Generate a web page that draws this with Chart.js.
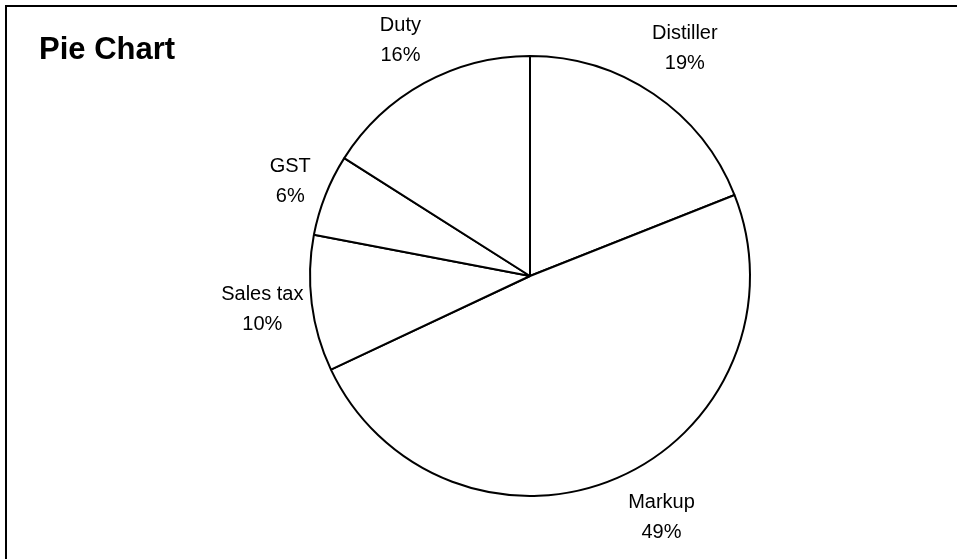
<!DOCTYPE html>
<html>
<head>
<meta charset="utf-8">
<script src="https://cdn.jsdelivr.net/npm/chart.js@4/dist/chart.umd.min.js"></script>
<style>
  html, body { margin: 0; padding: 0; background: #fff; }
  #wrap { position: relative; width: 957px; height: 559px; }
</style>
</head>
<body>
<div id="wrap"><canvas id="myChart"></canvas></div>
<script>
// slices, clockwise from 12 o'clock
const categories = ['Distiller', 'Markup', 'Sales tax', 'GST', 'Duty'];
const shares = [19, 49, 10, 6, 16];
const chartTitle = 'Pie Chart';

// where a two-line label sits for a given angle
function labelCenter(p, ang, w, h) {
  const c = Math.abs(Math.cos(ang)), s = Math.abs(Math.sin(ang));
  const gap = 4 + 17 * s;
  const dist = p.outerRadius + gap + c * w / 2 + s * h / 2;
  return { x: p.x + Math.cos(ang) * dist, y: p.y + Math.sin(ang) * dist };
}

// draws the frame, the title and the outside labels
const labelPlugin = {
  id: 'outsideLabels',
  afterDraw(chart) {
    const ctx = chart.ctx;
    ctx.save();
    ctx.fillStyle = '#000';
    ctx.fillRect(5, 5, 952, 2);
    ctx.fillRect(5, 5, 2, 554);

    ctx.font = 'bold 31px "Liberation Sans", Arial, sans-serif';
    ctx.textAlign = 'left';
    ctx.textBaseline = 'alphabetic';
    ctx.fillText(chartTitle, 39, 59);

    const meta = chart.getDatasetMeta(0);
    const total = shares.reduce((a, b) => a + b, 0);
    const maxBottom = chart.height - 18;
    ctx.font = '20px "Liberation Sans", Arial, sans-serif';
    ctx.textAlign = 'center';
    ctx.textBaseline = 'middle';
    meta.data.forEach((arc, i) => {
      const p = arc.getProps(['x', 'y', 'startAngle', 'endAngle', 'outerRadius'], true);
      let ang = (p.startAngle + p.endAngle) / 2;
      const line1 = categories[i];
      const line2 = Math.round(shares[i] / total * 100) + '%';
      const w = Math.max(ctx.measureText(line1).width, ctx.measureText(line2).width);
      const h = 46;
      let pos = labelCenter(p, ang, w, h);
      // slide up along the orbit if the label would run off the bottom
      let n = 0;
      while (pos.y + h / 2 > maxBottom && n < 200) {
        ang -= Math.sign(Math.cos(ang)) * 0.005;
        pos = labelCenter(p, ang, w, h);
        n++;
      }
      ctx.fillText(line1, pos.x, pos.y - 15);
      ctx.fillText(line2, pos.x, pos.y + 15);
    });
    ctx.restore();
  }
};

const ctx = document.getElementById('myChart').getContext('2d');
const mychart = new Chart(ctx, {
  type: 'pie',
  data: {
    labels: categories,
    datasets: [{
      data: shares,
      backgroundColor: '#ffffff',
      borderColor: '#000000',
      borderWidth: 2
    }]
  },
  options: {
    responsive: true,
    maintainAspectRatio: false,
    animation: false,
    layout: { padding: { left: 309, right: 206, top: 55, bottom: 62 } },
    plugins: {
      legend: { display: false },
      tooltip: { enabled: false },
      title: { display: false }
    }
  },
  plugins: [labelPlugin]
});
</script>
</body>
</html>
